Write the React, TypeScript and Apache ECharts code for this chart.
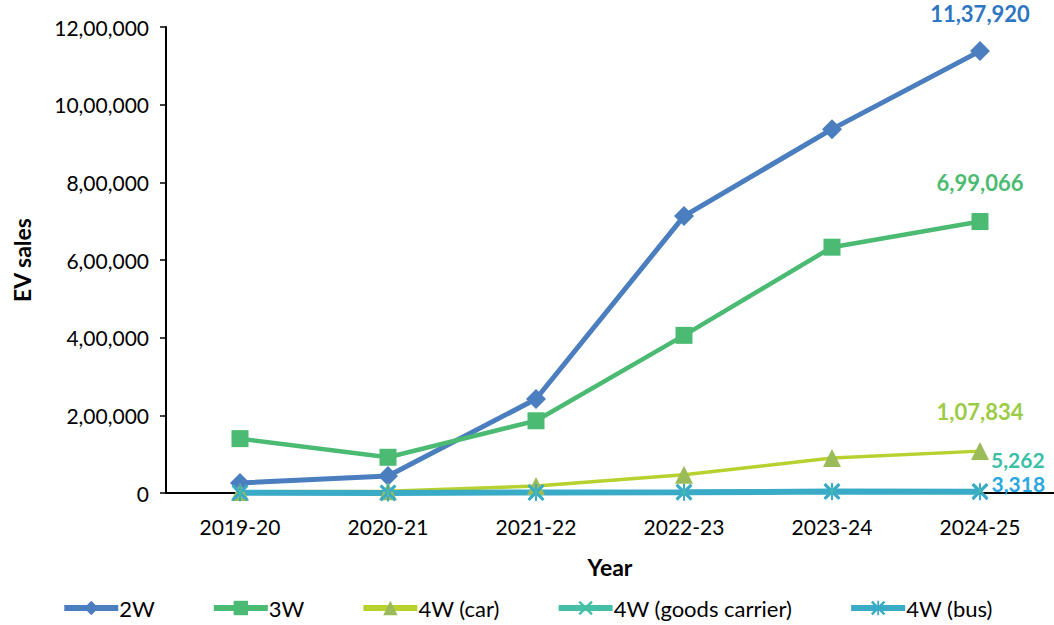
import React, { useEffect, useRef } from "react";
import * as echarts from "echarts";

const years = ["2019-20", "2020-21", "2021-22", "2022-23", "2023-24", "2024-25"];
const sales2W = [26000, 44000, 242000, 713000, 937000, 1137920];
const sales3W = [140000, 92000, 186000, 406000, 633000, 699066];
const salesCar = [2800, 4800, 17800, 47000, 90000, 107834];
const salesGoods = [300, 500, 1200, 2600, 4600, 5262];
const salesBus = [600, 300, 1200, 1900, 3600, 3318];
const yTicks = { min: 0, max: 1200000, step: 200000 };

const FONT = "Lato, 'Open Sans', sans-serif";

// Indian digit grouping: 12,00,000
function indian(n: number): string {
  const s = Math.round(n).toString();
  if (s.length <= 3) return s;
  const last3 = s.slice(-3);
  let rest = s.slice(0, -3);
  const parts: string[] = [];
  while (rest.length > 2) {
    parts.unshift(rest.slice(-2));
    rest = rest.slice(0, -2);
  }
  if (rest) parts.unshift(rest);
  return parts.join(",") + "," + last3;
}

const X_PATH = "path://M0,1.2 L1.2,0 L5,3.8 L8.8,0 L10,1.2 L6.2,5 L10,8.8 L8.8,10 L5,6.2 L1.2,10 L0,8.8 L3.8,5 Z";
const STAR_PATH =
  "path://M0,1.2 L1.2,0 L5,3.8 L8.8,0 L10,1.2 L6.2,5 L10,8.8 L8.8,10 L5,6.2 L1.2,10 L0,8.8 L3.8,5 Z M4.4,0 L4.4,10 L5.6,10 L5.6,0 Z";

function lastLabel(values: number[], color: string, extra: any) {
  return values.map((v, i) =>
    i === values.length - 1
      ? {
          value: v,
          label: {
            show: true,
            formatter: () => indian(v),
            color,
            fontFamily: FONT,
            fontWeight: "bold",
            fontSize: 22,
            lineHeight: 22,
            ...extra,
          },
        }
      : v
  );
}

export default function App() {
  const ref = useRef<HTMLDivElement>(null);

  useEffect(() => {
    if (!ref.current) return;
    const chart = echarts.init(ref.current, undefined, { renderer: "svg" });
    chart.setOption({
      animation: false,
      backgroundColor: "#ffffff",
      grid: { left: 166, right: 0, top: 27, bottom: 132 },
      legend: {
        bottom: 1,
        left: "center",
        itemWidth: 54,
        itemHeight: 18,
        itemGap: 56,
        lineStyle: { width: 6 },
        textStyle: { fontFamily: FONT, fontSize: 22, color: "#000", padding: [0, 0, 0, -4] },
        data: ["2W", "3W", "4W (car)", "4W (goods carrier)", "4W (bus)"],
      },
      xAxis: {
        type: "category",
        data: years,
        boundaryGap: true,
        name: "Year",
        nameLocation: "middle",
        nameGap: 62,
        nameTextStyle: { fontFamily: FONT, fontSize: 23, fontWeight: "bold", color: "#000" },
        axisLine: { lineStyle: { color: "#000", width: 2 } },
        axisTick: { show: false },
        axisLabel: { fontFamily: FONT, fontSize: 21, color: "#000", margin: 23 },
        splitLine: { show: false },
      },
      yAxis: {
        type: "value",
        min: yTicks.min,
        max: yTicks.max,
        interval: yTicks.step,
        name: "EV sales",
        nameLocation: "middle",
        nameRotate: 90,
        nameGap: 133,
        nameTextStyle: { fontFamily: FONT, fontSize: 23, fontWeight: "bold", color: "#000" },
        axisLine: { show: true, lineStyle: { color: "#000", width: 2 } },
        axisTick: { show: true, length: 6, lineStyle: { color: "#000", width: 1.5 } },
        axisLabel: {
          fontFamily: FONT,
          fontSize: 21,
          color: "#000",
          margin: 17,
          formatter: (v: number) => indian(v),
        },
        splitLine: { show: false },
      },
      series: [
        {
          name: "2W",
          type: "line",
          data: lastLabel(sales2W, "#2E75C4", { position: "top", distance: 17 }),
          symbol: "diamond",
          symbolSize: 20,
          color: "#4A7EBF",
          lineStyle: { color: "#4A7EBF", width: 5 },
          itemStyle: { color: "#4A7EBF" },
        },
        {
          name: "3W",
          type: "line",
          data: lastLabel(sales3W, "#4CBB72", { position: "top", distance: 20 }),
          symbol: "rect",
          symbolSize: 17,
          color: "#4BBA72",
          lineStyle: { color: "#4BBA72", width: 4.5 },
          itemStyle: { color: "#4BBA72" },
        },
        {
          name: "4W (car)",
          type: "line",
          data: lastLabel(salesCar, "#9CCB45", { position: "top", distance: 20 }),
          symbol: "triangle",
          symbolSize: 18,
          color: "#B5CF2F",
          lineStyle: { color: "#B8D12E", width: 3.5 },
          itemStyle: { color: "#9BBB59" },
        },
        {
          name: "4W (goods carrier)",
          type: "line",
          data: lastLabel(salesGoods, "#3CBFA6", {
            position: "right",
            distance: 3,
            offset: [0, -31],
            fontSize: 21,
            lineHeight: 21,
          }),
          symbol: X_PATH,
          symbolSize: 16,
          color: "#45C0A5",
          lineStyle: { color: "#45C0A5", width: 4 },
          itemStyle: { color: "#45C0A5" },
        },
        {
          name: "4W (bus)",
          type: "line",
          data: lastLabel(salesBus, "#2AA7E1", {
            position: "right",
            distance: 3,
            offset: [0, -8],
            fontSize: 21,
            lineHeight: 21,
          }),
          symbol: STAR_PATH,
          symbolSize: 17,
          color: "#3AABC7",
          lineStyle: { color: "#3AABC7", width: 6 },
          itemStyle: { color: "#3AABC7" },
        },
      ],
    });
    return () => chart.dispose();
  }, []);

  return (
    <div
      ref={ref}
      style={{ position: "absolute", left: 0, top: 0, width: 1054, height: 625, background: "#fff" }}
    />
  );
}
